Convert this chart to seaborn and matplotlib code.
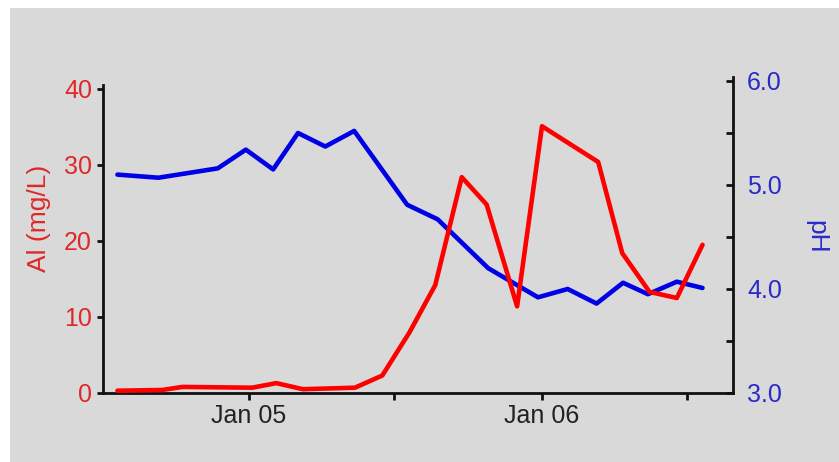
import matplotlib
matplotlib.use("Agg")
import matplotlib.pyplot as plt
from matplotlib.patches import Rectangle
import pandas as pd
import seaborn as sns

sns.set_theme(style="ticks")
plt.rcParams["font.family"] = ["Liberation Sans", "DejaVu Sans"]

# Dissolved aluminium samples
al_dates = ["2004-07-21", "2004-09-15", "2004-10-10", "2005-01-05", "2005-02-04",
            "2005-03-09", "2005-05-13", "2005-06-16", "2005-07-20", "2005-08-21",
            "2005-09-23", "2005-10-24", "2005-12-01", "2006-01-01", "2006-03-12",
            "2006-04-11", "2006-05-15", "2006-06-18", "2006-07-20"]
al_values = [0.3, 0.4, 0.8, 0.7, 1.3, 0.5, 0.7, 2.3, 8.0, 14.2,
             28.4, 24.8, 11.4, 35.1, 30.4, 18.4, 13.3, 12.5, 19.5]

# pH samples
ph_dates = ["2004-07-21", "2004-09-10", "2004-11-23", "2004-12-28", "2005-01-31",
            "2005-03-03", "2005-04-06", "2005-05-12", "2005-07-17", "2005-08-24",
            "2005-10-26", "2005-12-27", "2006-02-02", "2006-03-10", "2006-04-12",
            "2006-05-13", "2006-06-18", "2006-07-20"]
ph_values = [5.10, 5.07, 5.16, 5.34, 5.15, 5.50, 5.37, 5.52, 4.81, 4.67,
             4.20, 3.92, 4.00, 3.86, 4.06, 3.95, 4.07, 4.01]

al_ticks = [0, 10, 20, 30, 40]
ph_ticks = [3.0, 4.0, 5.0, 6.0]
x_tick_dates = ["2005-01-01", "2005-07-01", "2006-01-01", "2006-07-01"]
x_tick_labels = ["Jan 05", "", "Jan 06", ""]

al_df = pd.DataFrame({"date": pd.to_datetime(al_dates), "al": al_values})
ph_df = pd.DataFrame({"date": pd.to_datetime(ph_dates), "ph": ph_values})

RED = "#ff0000"
BLUE = "#0000e6"
RED_TXT = "#e02828"
BLUE_TXT = "#2a2ac8"
BG = "#d9d9d9"
FS_TICK = 18
FS_LABEL = 19

W, H = 839, 462
fig = plt.figure(figsize=(W / 100, H / 100), dpi=100, facecolor="white")
fig.patches.append(Rectangle((10 / W, 0), 1 - 10 / W, 1 - 8 / H,
                             transform=fig.transFigure, facecolor=BG,
                             edgecolor="none", zorder=-10))

left, right, top, bottom = 103, 733, 81, 393
ax = fig.add_axes([left / W, 1 - bottom / H, (right - left) / W, (bottom - top) / H])
ax.set_facecolor("none")
ax2 = ax.twinx()

sns.lineplot(data=al_df, x="date", y="al", ax=ax, color=RED, linewidth=3.3, zorder=3)
sns.lineplot(data=ph_df, x="date", y="ph", ax=ax2, color=BLUE, linewidth=3.3, zorder=2)
ax.set_zorder(ax2.get_zorder() + 1)
ax.patch.set_visible(False)

ax.set_xlim(pd.Timestamp("2004-07-03"), pd.Timestamp("2006-08-27"))
ax.set_ylim(0, 40 * 312 / 304)
ax2.set_ylim(3.0, 6.0)

ax.set_xticks(pd.to_datetime(x_tick_dates))
ax.set_xticklabels(x_tick_labels)
ax.set_yticks(al_ticks)
ax.set_yticklabels([str(t) for t in al_ticks])
ax2.set_yticks(ph_ticks)
ax2.set_yticklabels([f"{t:.1f}" for t in ph_ticks])
ax2.set_yticks([3.5, 4.5, 5.5], minor=True)

ax.spines["top"].set_visible(False)
ax2.spines["top"].set_visible(False)
ax.spines["right"].set_visible(False)
ax2.spines["left"].set_visible(False)
ax2.spines["bottom"].set_visible(False)
for sp in (ax.spines["left"], ax.spines["bottom"], ax2.spines["right"]):
    sp.set_linewidth(2.0)
    sp.set_color("#111111")
ax.spines["left"].set_bounds(0, 40.5)
ax2.spines["right"].set_bounds(3.0, 6.04)

ax.tick_params(axis="x", direction="out", length=5, width=2, color="#111111",
               labelsize=FS_TICK, labelcolor="#222222", pad=3)
ax.tick_params(axis="y", direction="out", length=4, width=2, color="#111111",
               labelsize=FS_TICK, labelcolor=RED_TXT, pad=4)
ax2.tick_params(axis="y", which="both", direction="in", length=5, width=2,
                color="#111111", labelsize=FS_TICK, labelcolor=BLUE_TXT, pad=10)

ax.set_xlabel("")
ax.set_ylabel("Al (mg/L)", color=RED_TXT, fontsize=FS_LABEL, va="center")
ax.yaxis.set_label_coords(-64 / 630, 0.56)
ax2.set_ylabel("pH", color=BLUE_TXT, fontsize=FS_LABEL, rotation=270, va="center")
ax2.yaxis.set_label_coords(1 + 83 / 630, 0.5)

fig.savefig("out.png", dpi=100, facecolor="white")
